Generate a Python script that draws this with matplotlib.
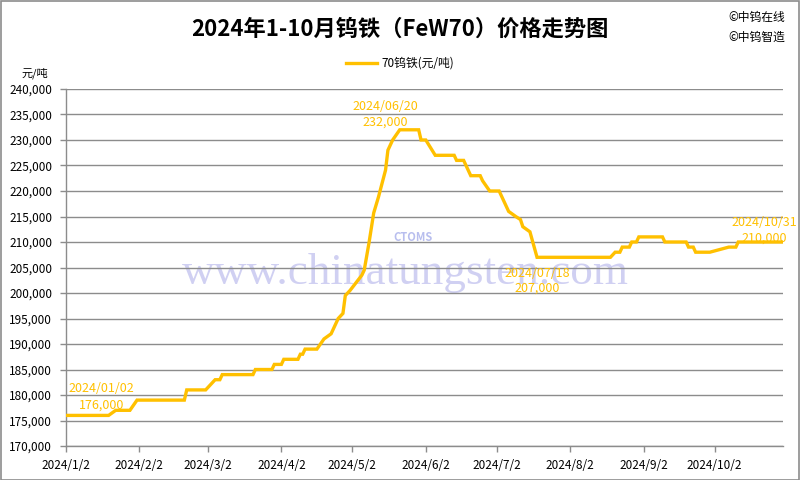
import matplotlib
matplotlib.use("Agg")
import matplotlib.pyplot as plt
from matplotlib.ticker import FuncFormatter, MultipleLocator
import pandas as pd

plt.rcParams['font.family'] = ['Noto Sans CJK SC', 'DejaVu Sans']

# price points (date, yuan/ton)
dates = ["2024-01-02", "2024-01-20", "2024-01-23", "2024-01-29", "2024-02-01",
         "2024-02-21", "2024-02-22", "2024-03-01", "2024-03-03", "2024-03-05",
         "2024-03-07", "2024-03-08", "2024-03-21", "2024-03-22", "2024-03-29",
         "2024-03-30", "2024-04-02", "2024-04-03", "2024-04-09", "2024-04-10",
         "2024-04-11", "2024-04-12", "2024-04-17", "2024-04-20", "2024-04-23",
         "2024-04-26", "2024-04-28", "2024-04-29", "2024-05-01", "2024-05-06",
         "2024-05-07", "2024-05-09", "2024-05-11", "2024-05-13", "2024-05-16",
         "2024-05-17", "2024-05-19", "2024-05-22", "2024-05-30", "2024-05-31",
         "2024-06-02", "2024-06-06", "2024-06-14", "2024-06-15", "2024-06-18",
         "2024-06-21", "2024-06-25", "2024-06-26", "2024-06-29", "2024-07-03",
         "2024-07-07", "2024-07-10", "2024-07-12", "2024-07-13", "2024-07-16",
         "2024-07-19", "2024-08-19", "2024-08-21", "2024-08-23", "2024-08-24",
         "2024-08-27", "2024-08-28", "2024-08-30", "2024-08-31", "2024-09-10",
         "2024-09-11", "2024-09-20", "2024-09-21", "2024-09-23", "2024-09-24",
         "2024-09-30", "2024-10-08", "2024-10-11", "2024-10-12", "2024-10-31"]
prices = [176000, 176000, 177000, 177000, 179000,
          179000, 181000, 181000, 182000, 183000,
          183000, 184000, 184000, 185000, 185000,
          186000, 186000, 187000, 187000, 188000,
          188000, 189000, 189000, 191000, 192000,
          195000, 196000, 199500, 200500, 203500,
          204500, 209800, 215700, 218800, 224100,
          228000, 230000, 232000, 232000, 230000,
          230000, 227000, 227000, 226000, 226000,
          223000, 223000, 222000, 220000, 220000,
          216000, 215000, 214400, 213000, 212000,
          207000, 207000, 208000, 208000, 209000,
          209000, 210000, 210000, 211000, 211000,
          210000, 210000, 209000, 209000, 208000,
          208000, 209000, 209000, 210000, 210000]

tick_dates = ["2024-01-02", "2024-02-02", "2024-03-02", "2024-04-02", "2024-05-02",
              "2024-06-02", "2024-07-02", "2024-08-02", "2024-09-02", "2024-10-02"]
tick_labels = ["2024/1/2", "2024/2/2", "2024/3/2", "2024/4/2", "2024/5/2",
               "2024/6/2", "2024/7/2", "2024/8/2", "2024/9/2", "2024/10/2"]

# data labels: date text, price text, where they sit (date, upper y, lower y)
note_dates = ["2024/01/02", "2024/06/20", "2024/07/18", "2024/10/31"]
note_prices = ["176,000", "232,000", "207,000", "210,000"]
note_pos = [("2024-01-17", 181200, 178000),
            ("2024-05-16", 236500, 233500),
            ("2024-07-19", 203900, 201000),
            ("2024-10-23", 213900, 210800)]

x = pd.to_datetime(dates)
gold = "#FFC000"
grid_c = "#8C8C8C"

fig = plt.figure(figsize=(8, 4.8), dpi=100)
ax = fig.add_axes([0.0825, 0.0708, 0.8965, 0.7438])

# watermark
ax.text(0.473, 0.485, "www.chinatungsten.com", transform=ax.transAxes, ha="center", va="center",
        fontsize=32.5, family="Liberation Serif", color="#C8C8F0", alpha=0.85, zorder=0)
ax.text(0.484, 0.585, "CTOMS", transform=ax.transAxes, ha="center", va="center",
        fontsize=8, fontweight="bold", style="italic", color="#B8BEEE", zorder=0)

ax.plot(x, prices, color=gold, linewidth=2.4, solid_joinstyle="miter", zorder=3,
        label="70钨铁(元/吨)")

ax.set_ylim(170000, 240000)
ax.yaxis.set_major_locator(MultipleLocator(5000))
ax.yaxis.set_major_formatter(FuncFormatter(lambda v, p: f"{int(v):,}"))
ax.set_xlim(pd.Timestamp("2024-01-02"), pd.Timestamp("2024-10-31"))
ax.set_xticks(pd.to_datetime(tick_dates))
ax.set_xticklabels(tick_labels)
ax.tick_params(axis="both", labelsize=8.5, colors=grid_c, labelcolor="black",
               length=4, width=1)
ax.tick_params(axis="y", pad=6)
ax.tick_params(axis="x", pad=5)
ax.grid(axis="y", color=grid_c, linewidth=1)
ax.set_axisbelow(True)
for s in ["top", "right"]:
    ax.spines[s].set_visible(False)
for s in ["left", "bottom"]:
    ax.spines[s].set_color(grid_c)
    ax.spines[s].set_linewidth(1)

for d_txt, v_txt, (d, y1, y2) in zip(note_dates, note_prices, note_pos):
    ax.text(pd.Timestamp(d), y1, d_txt, ha="center", va="center", fontsize=9, color=gold)
    ax.text(pd.Timestamp(d), y2, v_txt, ha="center", va="center", fontsize=9, color=gold)

fig.text(0.5, 0.94, "2024年1-10月钨铁（FeW70）价格走势图", ha="center", va="center",
         fontsize=16, fontweight="bold")
fig.text(0.946, 0.963, "©中钨在线", ha="center", va="center", fontsize=8.5)
fig.text(0.946, 0.922, "©中钨智造", ha="center", va="center", fontsize=8.5)
fig.text(0.044, 0.848, "元/吨", ha="center", va="center", fontsize=8)
fig.legend(loc="center", bbox_to_anchor=(0.5, 0.868), frameon=False, fontsize=8.5,
           handlelength=2.6, handletextpad=0.4)

# outer border
fig.patches.append(plt.Rectangle((0.001, 0.001), 0.998, 0.997, transform=fig.transFigure,
                                 fill=False, edgecolor="#8C8C8C", linewidth=1.2))

fig.savefig("out.png", dpi=100)
